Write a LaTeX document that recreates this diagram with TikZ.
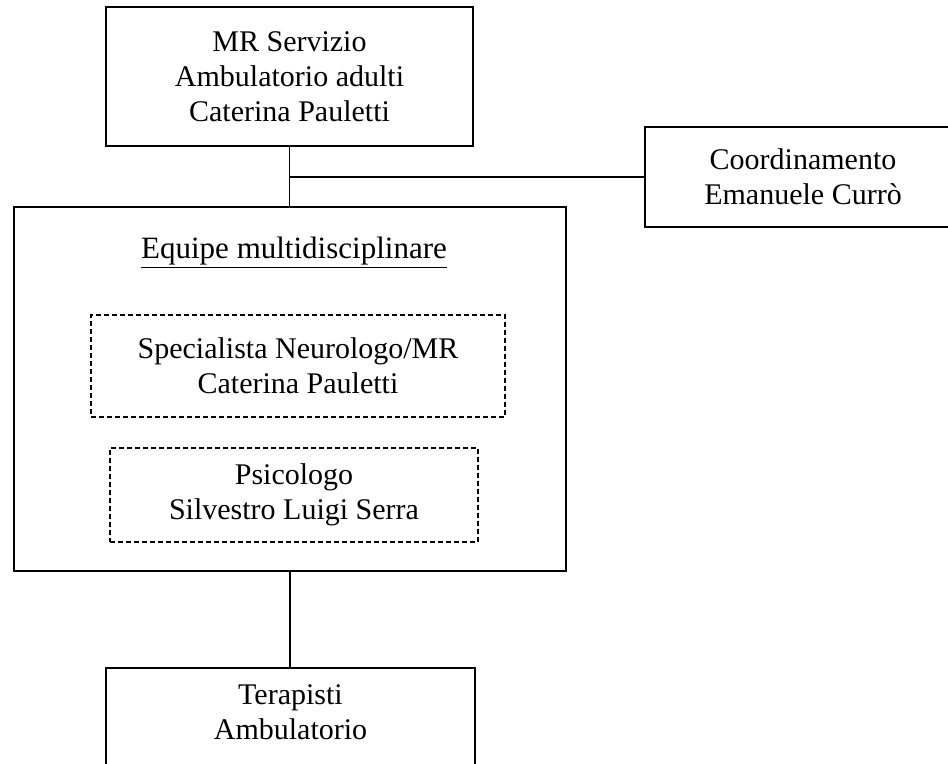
\documentclass[tikz,border=0pt]{standalone}
\usepackage{fontspec}
\setmainfont{Liberation Serif}
\usetikzlibrary{positioning}
\usetikzlibrary{calc}

\begin{document}
\begin{tikzpicture}[x=0.5pt, y=-0.5pt,
    txt/.style={align=center, font=\fontsize{15}{17.5}\selectfont},
    box/.style={draw, line width=0.75pt, txt, inner sep=0pt},
    dashbox/.style={box, line width=0.6pt, dash pattern=on 2.5pt off 1.5pt},
    link/.style={line width=0.75pt},
]
\useasboundingbox (0,0) rectangle (948,764);
\clip (0,0) rectangle (948,764);

\node[box, minimum width=183.5pt, minimum height=69.5pt] (mr) at (289.5,76.5) {MR Servizio\\Ambulatorio adulti\\Caterina Pauletti};
\node[txt, outer sep=0pt, minimum width=200pt, minimum height=50pt,
  label={[txt, xshift=-21pt]center:Coordinamento\\Emanuele Curr\`o}] (coord) at (845,177) {};
\draw[link] (coord.north east) -- (coord.north west) -- (coord.south west) -- (coord.south east);
\node[box, minimum width=276pt, minimum height=182pt] (equipe) at (290,389) {};
\node[font=\fontsize{15.5}{17}\selectfont] (title) at (294,253) {\underline{Equipe multidisciplinare}};
\node[dashbox, minimum width=207pt, minimum height=51pt] (spec) at (298,366) {Specialista Neurologo/MR\\Caterina Pauletti};
\node[dashbox, minimum width=184pt, minimum height=47pt] (psico) at (294,495) {Psicologo\\Silvestro Luigi Serra};
\node[box, minimum width=184.5pt, minimum height=60pt,
  label={[txt, yshift=8pt]center:Terapisti\\Ambulatorio}] (terap) at (290.5,728) {};

\draw[link] (mr.south) -- (mr.south |- equipe.north);
\draw[link] (coord.west) -| (mr.south);
\draw[link] (equipe.south) -- (equipe.south |- terap.north);
\end{tikzpicture}
\end{document}
